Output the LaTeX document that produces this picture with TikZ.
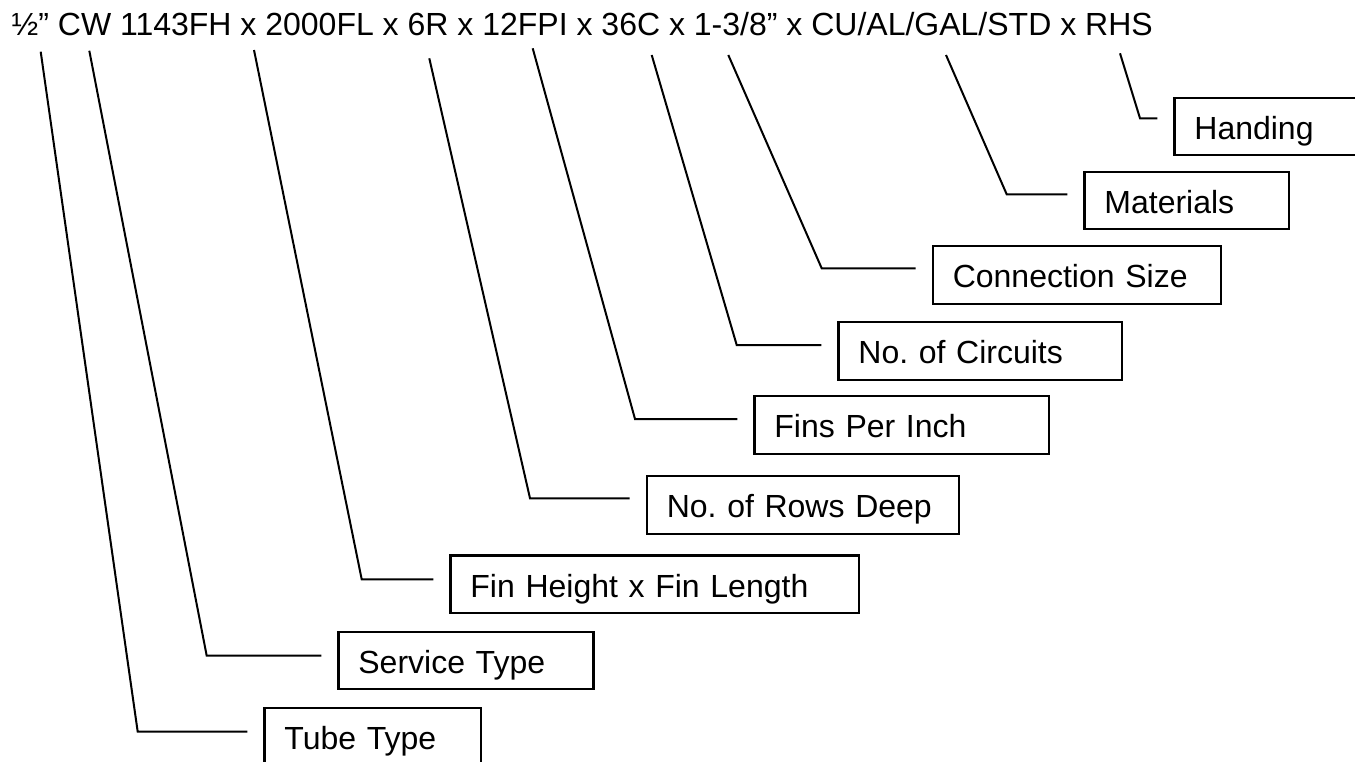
\documentclass[tikz,border=0pt]{standalone}
\usepackage{fontspec}
\setmainfont{Liberation Sans}
\frenchspacing

\begin{document}
\begin{tikzpicture}[x=1pt, y=-1pt]
\tikzset{
  tag/.style={draw, line width=2.2pt, anchor=north west, inner xsep=20pt, minimum height=57.5pt, text height=26pt, text depth=0pt, align=left, font=\fontsize{32}{38}\selectfont},
  lead/.style={line width=2pt, shorten >=16pt}
}
\useasboundingbox (0,0) rectangle (1355,761);
\node[anchor=base west, inner sep=0pt, font=\fontsize{32}{38}\selectfont] (code) at (11.5,35.5) {½” CW 1143FH x 2000FL x 6R x 12FPI x 36C x 1-3/8” x CU/AL/GAL/STD x RHS};
\node[tag, text width=151.7pt] (hand) at (1173.3,96.7) {Handing};
\node[tag, text width=164.7pt] (mat) at (1083.3,170.7) {Materials};
\node[tag, text width=248.3pt] (conn) at (931.7,245) {Connection Size};
\node[tag, text width=243.4pt] (circ) at (837.3,321) {No. of Circuits};
\node[tag, text width=254.7pt] (fpi) at (753.3,395) {Fins Per Inch};
\node[tag, text width=272.3pt] (rows) at (645.7,475) {No. of Rows Deep};
\node[tag, text width=368.7pt] (finh) at (449.3,554.3) {Fin Height x Fin Length};
\node[tag, text width=215pt] (serv) at (337.3,630.7) {Service Type};
\node[tag, text width=176.7pt] (tube) at (263.3,706.7) {Tube Type};
\foreach \n/\tx/\ty/\kx/\ky in {tube/40.7/51.7/137.7/731.7, serv/89.3/50.7/206.7/655.7, finh/254/50/361.7/579.3, rows/429.3/58.3/530/498.3, fpi/532.7/48.3/635/419, circ/651.7/55/736.7/345, conn/728.3/55/821.7/268.3, mat/946/55/1006.7/194.3, hand/1120/53.3/1140/118.3}{
  \coordinate (t-\n) at (\tx,\ty);
  \coordinate (k-\n) at (\kx,\ky);
  \draw[lead] (t-\n) -- (k-\n) -- (k-\n -| \n.west);
}
\end{tikzpicture}
\end{document}
